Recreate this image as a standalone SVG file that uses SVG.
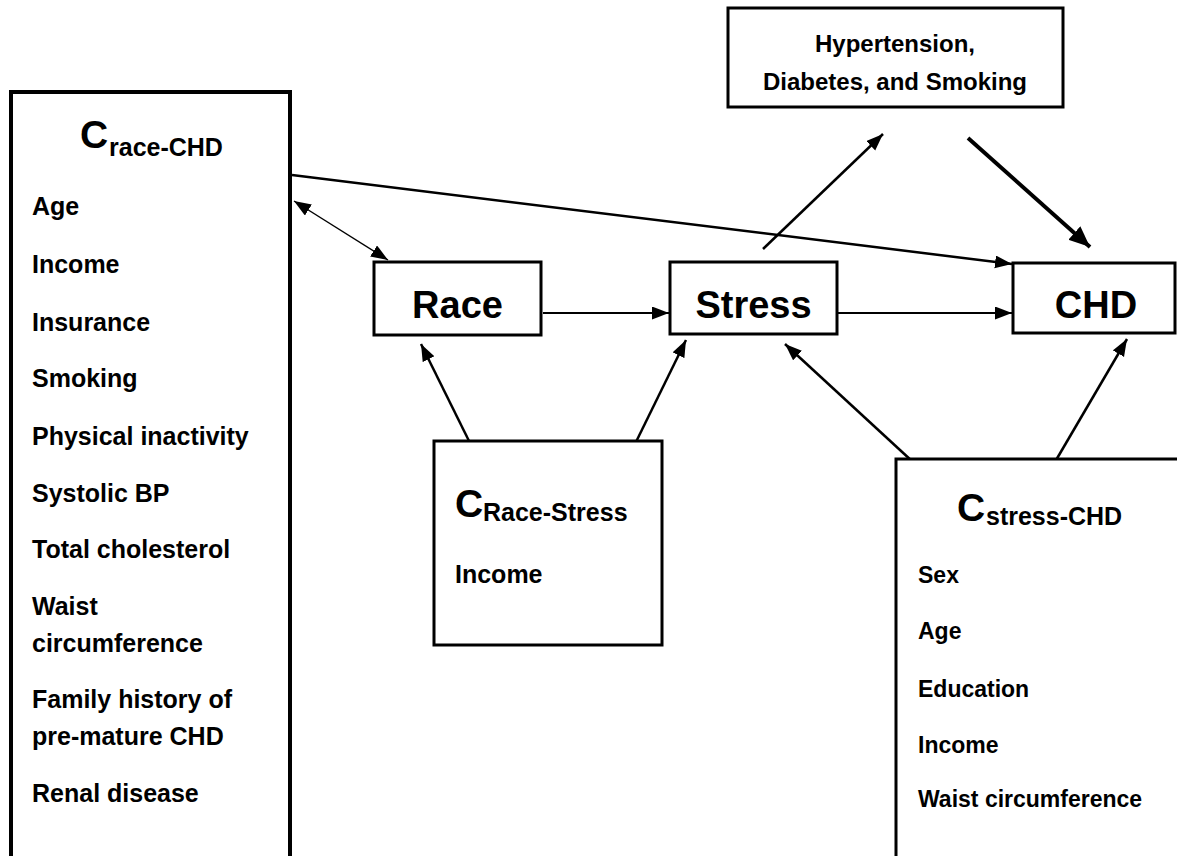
<svg xmlns="http://www.w3.org/2000/svg" width="1177" height="856" viewBox="0 0 1177 856">
<style>
text{font-family:"Liberation Sans",Arial,sans-serif;font-weight:bold;fill:#000}
.box{fill:#fff;stroke:#000;stroke-width:3}
.big{font-size:38px}
.item{font-size:25px}
.sitem{font-size:23px}
.hyp{font-size:24px}
.bigc{font-size:39px}
.sub{font-size:25px}
.edge{fill:none;stroke:#000;stroke-width:2}
</style>
<defs>
<marker id="ah" markerUnits="userSpaceOnUse" markerWidth="20" markerHeight="14" refX="17" refY="6.5" orient="auto-start-reverse">
<path d="M0,0 L17,6.5 L0,13 z" fill="#000"/>
</marker>
<marker id="ahb" markerUnits="userSpaceOnUse" markerWidth="24" markerHeight="20" refX="21" refY="9" orient="auto">
<path d="M0,0 L21,9 L0,18 z" fill="#000"/>
</marker>
</defs>
<g id="connectors">
<line class="edge" x1="292" y1="175" x2="1012" y2="264" marker-end="url(#ah)" style="stroke-width:2.5"/>
<line class="edge" x1="294" y1="201" x2="388" y2="260" marker-start="url(#ah)" marker-end="url(#ah)" style="stroke-width:1.4"/>
<line class="edge" x1="543" y1="313" x2="669" y2="313" marker-end="url(#ah)"/>
<line class="edge" x1="838" y1="313" x2="1012" y2="313" marker-end="url(#ah)"/>
<line class="edge" x1="763" y1="249" x2="883" y2="134" marker-end="url(#ah)" style="stroke-width:2.5"/>
<line class="edge" x1="968" y1="138" x2="1090" y2="247" marker-end="url(#ahb)" style="stroke-width:4"/>
<line class="edge" x1="471" y1="445" x2="421" y2="344" marker-end="url(#ah)" style="stroke-width:2.5"/>
<line class="edge" x1="634" y1="446" x2="686" y2="340" marker-end="url(#ah)" style="stroke-width:2.5"/>
<line class="edge" x1="913" y1="462" x2="785" y2="344" marker-end="url(#ah)" style="stroke-width:2.5"/>
<line class="edge" x1="1052" y1="467" x2="1127" y2="339" marker-end="url(#ah)" style="stroke-width:2.5"/>
</g>
<g id="c-race-chd">
<rect class="box" x="11" y="92" width="279" height="800" style="stroke-width:4"/>
<text class="bigc" x="80" y="148">C</text>
<text class="sub" x="109" y="156">race-CHD</text>
<text class="item" x="32" y="215">Age</text>
<text class="item" x="32" y="273">Income</text>
<text class="item" x="32" y="331">Insurance</text>
<text class="item" x="32" y="387">Smoking</text>
<text class="item" x="32" y="445">Physical inactivity</text>
<text class="item" x="32" y="502">Systolic BP</text>
<text class="item" x="32" y="558">Total cholesterol</text>
<text class="item" x="32" y="615">Waist</text>
<text class="item" x="32" y="652">circumference</text>
<text class="item" x="32" y="708">Family history of</text>
<text class="item" x="32" y="745">pre-mature CHD</text>
<text class="item" x="32" y="802">Renal disease</text>
</g>
<g id="hypertension">
<rect class="box" x="728" y="8" width="335" height="99"/>
<text class="hyp" x="895" y="52" text-anchor="middle">Hypertension,</text>
<text class="hyp" x="895" y="90" text-anchor="middle">Diabetes, and Smoking</text>
</g>
<g id="race">
<rect class="box" x="374" y="262" width="167" height="73"/>
<text class="big" x="457.5" y="318" text-anchor="middle">Race</text>
</g>
<g id="stress">
<rect class="box" x="670" y="262" width="167" height="72"/>
<text class="big" x="753.5" y="318" text-anchor="middle">Stress</text>
</g>
<g id="chd">
<rect class="box" x="1013" y="263" width="162" height="70"/>
<text class="big" x="1096" y="318" text-anchor="middle">CHD</text>
</g>
<g id="c-race-stress">
<rect class="box" x="434" y="441" width="228" height="204"/>
<text class="bigc" x="455" y="517">C</text>
<text class="sub" x="483" y="521">Race-Stress</text>
<text class="item" x="455" y="583">Income</text>
</g>
<g id="c-stress-chd">
<rect class="box" x="896" y="459" width="300" height="500"/>
<text class="bigc" x="957" y="521">C</text>
<text class="sub" x="986" y="525">stress-CHD</text>
<text class="sitem" x="918" y="583">Sex</text>
<text class="sitem" x="918" y="639">Age</text>
<text class="sitem" x="918" y="697">Education</text>
<text class="sitem" x="918" y="753">Income</text>
<text class="sitem" x="918" y="807">Waist circumference</text>
</g>
</svg>
